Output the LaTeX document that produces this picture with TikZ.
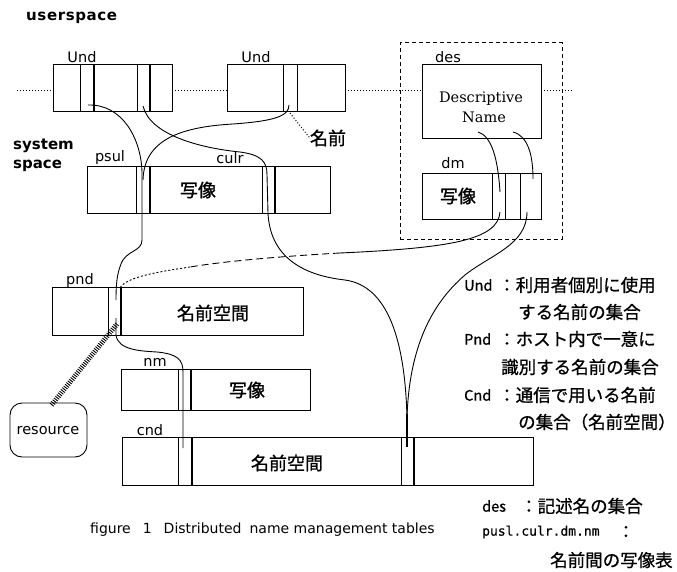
\documentclass[tikz,border=0pt]{standalone}
\usepackage{fontspec}
\setmainfont{DejaVu Sans}
\newfontfamily\jp[FakeBold=1.2]{Noto Sans CJK JP}
\newfontfamily\jpl[FakeBold=0.8]{Noto Sans CJK JP}
\newfontfamily\dserif{DejaVu Serif}
\newfontfamily\dmono[FakeBold=0.5]{DejaVu Sans Mono}
\usetikzlibrary{calc}
\begin{document}
\begin{tikzpicture}[x=1pt,y=-1pt,
  box/.style={draw, line width=0.9pt, inner sep=0pt, outer sep=0pt, anchor=north west},
  slot/.style={line width=0.9pt},
  wire/.style={line width=0.9pt},
  lbl/.style={inner sep=0pt, font=\fontsize{14.5}{14.5}\selectfont},
  bold/.style={inner sep=0pt, anchor=west, font=\bfseries\fontsize{15}{15}\selectfont},
  jbig/.style={inner sep=0pt, font=\jp\fontsize{18}{18}\selectfont},
  legl/.style={inner sep=0pt, anchor=west, font=\jpl\fontsize{14.5}{14.5}\selectfont},
  legj/.style={inner sep=0pt, anchor=west, font=\jpl\fontsize{17.5}{17.5}\selectfont},
  dotl/.style={line width=1pt, dash pattern=on 1pt off 2pt},
]
\useasboundingbox (0,0) rectangle (677,572);
\fill[white] (0,0) rectangle (677,572);

% titles
\node[bold] (us) at (26,18) {u\kern0.6pt s\kern0.6pt e\kern0.6pt r\kern0.6pt s\kern0.6pt p\kern0.6pt a\kern0.6pt c\kern0.6pt e};
\node[bold] (sys1) at (13,146) {system};
\node[bold] (sys2) at (13,166) {space};

% Und boxes
\node[box, minimum width=119pt, minimum height=47pt] (und1) at (53,64) {};
\draw[slot] (80,64) -- (80,111);
\draw[slot, line width=1.3pt] (94,64) -- (94,111);
\draw[slot] (137,64) -- (137,111);
\draw[slot, line width=1.3pt] (150,64) -- (150,111);
\node[lbl] (und1l) at (82,57) {Und};

\node[box, minimum width=118pt, minimum height=47pt] (und2) at (227,64) {};
\draw[slot] (283,64) -- (283,111);
\draw[slot] (297,64) -- (297,111);
\node[lbl] (und2l) at (256,57) {Und};

% des group
\node[box, line width=1pt, dash pattern=on 4pt off 3pt, minimum width=162pt, minimum height=196pt] (desgrp) at (400,43) {};
\node[box, minimum width=119pt, minimum height=74pt] (des) at (422,64) {};
\node[lbl] (desl) at (448,57) {des};
\node[inner sep=0pt, align=center, font=\dserif\fontsize{14.5}{20}\selectfont] (desn) at (481,107) {Descriptive\\\hspace*{6pt}Name};
\node[box, minimum width=119pt, minimum height=46pt] (dm) at (422,173) {};
\draw[slot] (492,173) -- (492,219);
\draw[slot] (505,173) -- (505,219);
\draw[slot] (520,173) -- (520,219);
\node[lbl] (dml) at (453,163) {dm};
\node[jbig] (dmt) at (458,196) {写像};

% dotted baseline
\coordinate (d0) at (17,91);
\coordinate (d1) at (573,91);
\draw[dotl] (d0) -- (53,91);
\draw[dotl] (172,91) -- (227,91);
\draw[dotl] (345,91) -- (422,91);
\draw[dotl] (541,91) -- (d1);

% name label
\node[jbig] (namae) at (328,138) {名前};
\draw[dotl] (290,113) -- (namae.west);

% psul / culr box
\node[box, minimum width=243pt, minimum height=47pt] (ps) at (87,166) {};
\draw[slot] (136,166) -- (136,213);
\draw[slot, line width=1.3pt] (150,166) -- (150,213);
\draw[slot] (262,166) -- (262,213);
\draw[slot, line width=1.3pt] (275,166) -- (275,213);
\node[lbl] (psl) at (110,158) {psul};
\node[lbl] (cul) at (230,158) {culr};
\node[jbig] (pst) at (198,190) {写像};

% pnd box
\node[box, minimum width=251pt, minimum height=48pt] (pnd) at (52,287) {};
\draw[slot] (108,287) -- (108,335);
\draw[slot, line width=1.3pt] (121,287) -- (121,335);
\node[lbl] (pndl) at (80,280) {pnd};
\node[jbig] (pndt) at (213,313) {名前空間};

% nm box
\node[box, minimum width=189pt, minimum height=41pt] (nm) at (121,369) {};
\draw[slot] (178,369) -- (178,410);
\draw[slot, line width=1.3pt] (191,369) -- (191,410);
\node[lbl] (nml) at (155,362) {nm};
\node[jbig] (nmt) at (247,390) {写像};

% cnd box
\node[box, minimum width=411pt, minimum height=48pt] (cnd) at (122,437) {};
\draw[slot] (178,437) -- (178,485);
\draw[slot, line width=1.3pt] (192,437) -- (192,485);
\draw[slot] (401,437) -- (401,485);
\draw[slot, line width=1.3pt] (414,437) -- (414,485);
\node[lbl] (cndl) at (150,430) {cnd};
\node[jbig] (cndt) at (287,463) {名前空間};

% resource
\node[box, rounded corners=12pt, minimum width=77pt, minimum height=54pt] (res) at (10,403) {};
\node[lbl] (rest) at (48,431) {resource};

% connectors
\coordinate (aU) at (88,105);
\coordinate (aP) at (116,300);
\draw[wire] (aU) .. controls (122,104) and (141,138) .. (142,172) -- (142,240)
  .. controls (142,252) and (126,250) .. (121,264) .. controls (117,274) and (116,284) .. (aP);

\coordinate (bP) at (143,180);
\coordinate (bU) at (289,105);
\draw[wire] (bP) .. controls (144,140) and (180,127) .. (233,124) .. controls (275,121) and (289,116) .. (bU);

\coordinate (cU) at (143,106);
\coordinate (cC) at (407,418);
\draw[wire] (cU) .. controls (150,135) and (200,148) .. (240,152) .. controls (262,155) and (267,162) .. (267,175)
  -- (268,213) .. controls (270,255) and (300,275) .. (345,280) .. controls (388,286) and (405,340) .. (cC);

\coordinate (dD) at (527,212);
\draw[wire] (dD) .. controls (527,245) and (490,255) .. (465,275) .. controls (430,305) and (409,350) .. (cC);
\coordinate (cC2) at (407,447);
\draw[line width=1.4pt] (407,414) -- (cC2);

\coordinate (eD) at (500,212);
\coordinate (e1) at (340,253);
\coordinate (e2) at (190,267);
\coordinate (eP) at (119,289);
\draw[wire] (eD) .. controls (498,240) and (450,248) .. (e1);
\draw[wire, dash pattern=on 7pt off 4pt] (e1) .. controls (270,257) and (220,262) .. (e2);
\draw[wire, dash pattern=on 2pt off 2pt] (e2) .. controls (150,273) and (125,278) .. (eP);

\coordinate (f1) at (478,132);
\coordinate (f2) at (500,192);
\draw[wire] (f1) .. controls (492,136) and (498,160) .. (f2);
\coordinate (g1) at (513,132);
\coordinate (g2) at (533,179);
\draw[wire] (g1) .. controls (528,136) and (533,155) .. (g2);

\coordinate (hP) at (116,318);
\coordinate (hC) at (183,448);
\draw[wire] (hP) -- (116,335) .. controls (118,350) and (140,351) .. (157,352)
  .. controls (178,354) and (183,360) .. (183,372) -- (hC);

\coordinate (rP) at (117,324);
\draw[line width=5pt, dash pattern=on 0.9pt off 1.3pt] (res.north) ++(3,2) -- (rP);

% legend
\node[legl] (lg1k) at (464,285) {Und};
\node[legj] (lg1) at (498,285) {：利用者個別に使用};
\node[legj] (lg2) at (518,312) {する名前の集合};
\node[legl] (lg3k) at (464,339) {Pnd};
\node[legj] (lg3) at (498,339) {：ホスト内で一意に};
\node[legj] (lg4) at (501,367) {識別する名前の集合};
\node[legl] (lg5k) at (464,395) {Cnd};
\node[legj] (lg5) at (498,395) {：通信で用いる名前};
\node[legj] (lg6) at (518,422) {の集合（名前空間）};
\node[legl] (lg7k) at (482,506) {des};
\node[legj] (lg7) at (520,506) {：記述名の集合};
\node[inner sep=0pt, anchor=west, font=\dmono\fontsize{13}{13}\selectfont] (lg8) at (482,532) {pusl.culr.dm.nm};
\node[legj] (lg8c) at (617,532) {：};
\node[legj] (lg9) at (550,560) {名前間の写像表};

% caption
\node[inner sep=0pt, anchor=west, font=\fontsize{14}{14}\selectfont] (cap) at (90,530) {figure\hspace{12pt}1\hspace{12pt}Distributed\hspace{8pt}name management tables};
\end{tikzpicture}
\end{document}
